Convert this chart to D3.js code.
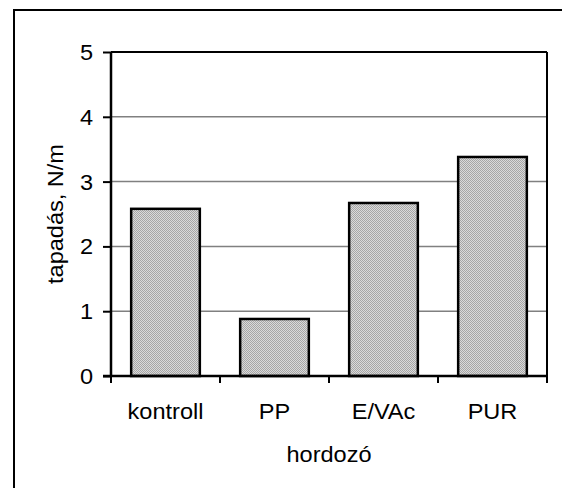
<!DOCTYPE html>
<html>
<head>
<meta charset="utf-8">
<script src="https://cdn.jsdelivr.net/npm/d3@7"></script>
<style>
  html, body { margin: 0; padding: 0; background: #fff; }
  svg { display: block; }
  text { font-family: "Liberation Sans", Arial, sans-serif; fill: #000; }
</style>
</head>
<body>
<script>
// ---- data ----
const categories = ["kontroll", "PP", "E/VAc", "PUR"];
const values = [2.58, 0.88, 2.67, 3.38];
const yTicks = [0, 1, 2, 3, 4, 5];
const yTitle = "tapadás, N/m";
const xTitle = "hordozó";

// ---- layout ----
const W = 562, H = 488;
const plot = { left: 111, right: 547, top: 52, bottom: 376 };
const fontSize = 22, stretch = 1.07;

const svg = d3.select("body").append("svg").attr("width", W).attr("height", H);

// pattern for bar fill (dithered gray)
const defs = svg.append("defs");
const pat = defs.append("pattern").attr("id", "dither")
  .attr("width", 2).attr("height", 2).attr("patternUnits", "userSpaceOnUse");
pat.append("rect").attr("width", 2).attr("height", 2).attr("fill", "#dadada");
pat.append("rect").attr("x", 0).attr("y", 0).attr("width", 1).attr("height", 1).attr("fill", "#a6a6a6");
pat.append("rect").attr("x", 1).attr("y", 1).attr("width", 1).attr("height", 1).attr("fill", "#a6a6a6");

// outer frame (extends past right and bottom edges)
svg.append("rect").attr("x", 14).attr("y", 10).attr("width", 700).attr("height", 700)
  .attr("fill", "none").attr("stroke", "#000").attr("stroke-width", 2);

const x = d3.scaleBand().domain(categories).range([plot.left, plot.right])
  .paddingInner(0.37).paddingOuter(0.185);
const y = d3.scaleLinear().domain([0, 5]).range([plot.bottom, plot.top]);

// gridlines
svg.append("g").selectAll("line").data(yTicks.filter(t => t > 0 && t < 5)).join("line")
  .attr("x1", plot.left).attr("x2", plot.right)
  .attr("y1", d => y(d)).attr("y2", d => y(d))
  .attr("stroke", "#808080").attr("stroke-width", 1.5);

// plot area border top & right
svg.append("line").attr("x1", plot.left).attr("x2", plot.right)
  .attr("y1", y(5)).attr("y2", y(5)).attr("stroke", "#000").attr("stroke-width", 2);
svg.append("line").attr("x1", plot.right).attr("x2", plot.right)
  .attr("y1", y(5)).attr("y2", y(0)).attr("stroke", "#000").attr("stroke-width", 2);

// bars
svg.append("g").selectAll("rect").data(categories).join("rect")
  .attr("x", d => x(d)).attr("width", x.bandwidth())
  .attr("y", (d, i) => y(values[i])).attr("height", (d, i) => y(0) - y(values[i]))
  .attr("fill", "url(#dither)").attr("stroke", "#000").attr("stroke-width", 2.5);

// y axis
const yAxis = svg.append("g").attr("transform", `translate(${plot.left},0)`)
  .call(d3.axisLeft(y).tickValues(yTicks).tickSize(8).tickFormat(""));
yAxis.select(".domain").attr("stroke", "#000").attr("stroke-width", 2.5).attr("d", `M0,${plot.top}V${plot.bottom}`);
yAxis.selectAll(".tick line").attr("stroke", "#000").attr("stroke-width", 2);

// x axis (ticks at category boundaries)
const bounds = d3.range(categories.length + 1).map(i => plot.left + i * (plot.right - plot.left) / categories.length);
svg.append("line").attr("x1", plot.left - 8).attr("x2", plot.right)
  .attr("y1", y(0)).attr("y2", y(0)).attr("stroke", "#000").attr("stroke-width", 2.5);
svg.append("g").selectAll("line").data(bounds).join("line")
  .attr("x1", d => d).attr("x2", d => d)
  .attr("y1", y(0)).attr("y2", y(0) + 7)
  .attr("stroke", "#000").attr("stroke-width", 2);

// text helper: stretched text
function label(tx, ty, str, anchor, rot, baselineShift) {
  const g = svg.append("g").attr("transform",
    `translate(${tx},${ty})` + (rot ? ` rotate(${rot})` : "") + ` scale(${stretch},1)`);
  g.append("text").attr("text-anchor", anchor).attr("font-size", fontSize)
    .attr("dy", baselineShift || 0).text(str);
}

// y tick labels
yTicks.forEach(t => label(93, y(t), String(t), "end", 0, "0.36em"));
// x category labels
categories.forEach(c => label(x(c) + x.bandwidth() / 2, 418.5, c, "middle", 0, 0));
// axis titles
label((plot.left + plot.right) / 2, 461.5, xTitle, "middle", 0, 0);
label(62.5, (plot.top + plot.bottom) / 2, yTitle, "middle", -90, 0);
</script>
</body>
</html>
